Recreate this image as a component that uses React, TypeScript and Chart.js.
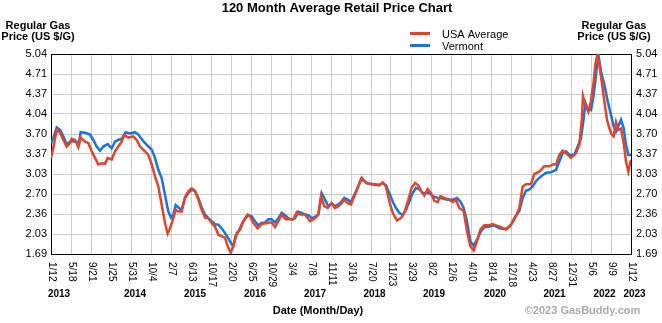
import React, { useEffect, useRef } from 'react';
import { Chart, registerables } from 'chart.js';

Chart.register(...registerables);

const FONT = '"Liberation Sans", Arial, Helvetica, sans-serif';

const chartTitle = '120 Month Average Retail Price Chart';
const axisTitleLines = ['Regular Gas', 'Price (US $/G)'];
const xAxisTitle = 'Date (Month/Day)';
const copyright = '\u00A92023 GasBuddy.com';
const seriesNames = ['USA Average', 'Vermont'];
const seriesColors = ['#E2452A', '#1A73DE'];

// x axis: weeks since 1/12/2013, one tick every 18 weeks
const xTickLabels = ['1/12', '5/18', '9/21', '1/25', '5/31', '10/4', '2/7', '6/13', '10/17', '2/20', '6/25', '10/29', '3/4', '7/8', '11/11', '3/16', '7/20', '11/23', '3/29', '8/2', '12/6', '4/10', '8/14', '12/18', '4/23', '8/27', '12/31', '5/6', '9/9', '1/12'];
const xTickWeeks = [0, 18, 36, 54, 72, 90, 108, 126, 144, 162, 180, 198, 216, 234, 252, 270, 288, 306, 324, 342, 360, 378, 396, 414, 432, 450, 468, 486, 504, 522];
const yearLabels = ['2013', '2014', '2015', '2016', '2017', '2018', '2019', '2020', '2021', '2022', '2023'];
const yearWeeks = [7.2, 75.6, 129.6, 183.6, 237.6, 291.2, 344.7, 399.6, 453.2, 498.2, 525.2];

const yTickValues = [1.69, 2.025, 2.36, 2.695, 3.03, 3.365, 3.70, 4.035, 4.37, 4.705, 5.04];
const yTickLabels = ['1.69', '2.03', '2.36', '2.70', '3.03', '3.37', '3.70', '4.04', '4.37', '4.71', '5.04'];

const usaWeeks = [0, 2.1, 5.1, 8.1, 11.1, 14.1, 17.1, 18.6, 21.6, 24.6, 26.7, 30.6, 33.6, 36.6, 39.6, 42.6, 45.6, 48.6, 51, 54.6, 57.6, 60.6, 63.6, 66, 69.6, 74.1, 77.1, 80.1, 84.6, 87.6, 90.6, 93.6, 96.6, 99.6, 102.6, 105, 107.1, 110.1, 112.2, 114.6, 117.6, 120.6, 123.6, 126.6, 129.6, 132.6, 135.6, 138.6, 141.6, 144.6, 147.6, 150.6, 153.6, 156.6, 159.6, 161.7, 164.1, 167.1, 170.1, 173.1, 177, 179.1, 182.1, 186, 189.6, 194.1, 198.6, 201.6, 204.6, 207.6, 211.2, 215.1, 218.1, 221.1, 224.1, 228.6, 233.1, 237.6, 240.6, 243, 246, 249, 252.6, 255.6, 258.6, 261, 264, 267, 270, 273, 276, 279.6, 283.5, 288, 292.5, 295.5, 298.5, 301.5, 304.5, 307.5, 311.4, 315, 318, 321.6, 324.6, 327.6, 330.6, 333.6, 336, 339, 342, 345, 348, 350.4, 354, 358.5, 361.5, 364.5, 367.5, 371.4, 374.4, 377.4, 380.4, 383.4, 386.4, 390, 393.6, 397.5, 400.5, 405, 409.5, 414, 417, 421.5, 424.5, 427.5, 432, 435, 439.5, 444, 448.5, 451.5, 454.5, 457.5, 460.5, 463.5, 468, 472.5, 475.5, 477.6, 478.8, 480.6, 483.6, 486, 488.4, 489.9, 491.4, 493.5, 495.6, 498, 500.4, 502.5, 504.6, 506.4, 508.5, 510.6, 513, 515.4, 517.5, 519.6, 522];
const usaPrices = [3.30, 3.47, 3.77, 3.72, 3.60, 3.49, 3.55, 3.62, 3.60, 3.48, 3.64, 3.57, 3.55, 3.41, 3.30, 3.19, 3.21, 3.20, 3.30, 3.27, 3.41, 3.49, 3.57, 3.68, 3.64, 3.66, 3.60, 3.49, 3.41, 3.35, 3.19, 2.99, 2.82, 2.51, 2.21, 2.03, 2.12, 2.29, 2.43, 2.40, 2.40, 2.64, 2.74, 2.79, 2.75, 2.60, 2.43, 2.30, 2.29, 2.21, 2.15, 2.01, 1.99, 1.96, 1.79, 1.71, 1.82, 2.04, 2.10, 2.24, 2.35, 2.32, 2.21, 2.12, 2.19, 2.21, 2.22, 2.14, 2.24, 2.35, 2.27, 2.27, 2.27, 2.39, 2.35, 2.35, 2.24, 2.29, 2.35, 2.65, 2.49, 2.46, 2.54, 2.46, 2.49, 2.53, 2.60, 2.54, 2.52, 2.66, 2.80, 2.97, 2.88, 2.86, 2.85, 2.84, 2.89, 2.82, 2.57, 2.38, 2.25, 2.29, 2.38, 2.60, 2.80, 2.88, 2.84, 2.73, 2.67, 2.78, 2.71, 2.58, 2.56, 2.66, 2.63, 2.60, 2.56, 2.60, 2.46, 2.41, 2.07, 1.82, 1.75, 1.90, 2.10, 2.17, 2.17, 2.19, 2.17, 2.14, 2.10, 2.18, 2.27, 2.46, 2.82, 2.86, 2.86, 3.03, 3.07, 3.16, 3.16, 3.19, 3.19, 3.35, 3.42, 3.38, 3.30, 3.38, 3.52, 3.91, 4.33, 4.20, 4.07, 4.25, 4.58, 4.86, 5.00, 4.86, 4.58, 4.25, 3.94, 3.80, 3.69, 3.66, 3.90, 3.77, 3.79, 3.55, 3.24, 3.07, 3.27];

const vtWeeks = [0, 2.1, 5.1, 8.1, 11.1, 14.1, 17.1, 20.1, 23.1, 25.2, 26.7, 30.6, 35.1, 38.1, 41.1, 44.1, 47.1, 51, 54.6, 57.6, 60.6, 63.6, 67.2, 71.1, 75.6, 78.6, 83.1, 87.6, 90.6, 93.6, 96.6, 99.6, 102.6, 105.6, 108, 110.1, 112.2, 114.6, 117.6, 120.6, 123.6, 126.6, 129.6, 132.6, 135.6, 138.6, 141.6, 144.6, 147.6, 150.6, 153.6, 156.6, 159.6, 162.6, 164.1, 166.2, 169.2, 172.2, 175.2, 177.6, 180.6, 183.6, 186.6, 189.6, 192.6, 195.6, 198.6, 201.6, 204.6, 207.6, 210.6, 213.6, 216.6, 219.6, 222.6, 225.6, 228.6, 231.6, 234.6, 237.6, 240.6, 243.6, 246.6, 249.6, 252.6, 255.6, 258.6, 261, 264, 267, 270, 273, 276, 279, 282, 285, 291, 295.5, 298.5, 301.5, 304.5, 307.5, 310.5, 313.5, 316.5, 319.5, 322.5, 325.5, 328.5, 331.5, 334.5, 337.5, 340.5, 343.5, 348, 352.5, 357, 361.5, 365.4, 368.4, 371.4, 374.4, 377.4, 380.4, 383.4, 387, 390, 394.5, 399, 403.5, 408, 411, 414, 417, 421.5, 424.5, 427.5, 430.5, 433.5, 436.5, 441, 445.5, 450, 454.5, 457.5, 460.5, 463.5, 466.5, 471, 474, 477, 479, 481, 483, 486, 488, 490, 491.5, 492.6, 495, 498, 501, 504, 506.4, 508.5, 510.6, 513, 515.4, 517.5, 519.6, 522];
const vtPrices = [3.55, 3.63, 3.81, 3.77, 3.66, 3.53, 3.57, 3.58, 3.57, 3.55, 3.73, 3.72, 3.69, 3.60, 3.49, 3.42, 3.49, 3.53, 3.46, 3.57, 3.60, 3.62, 3.73, 3.71, 3.73, 3.69, 3.58, 3.49, 3.44, 3.30, 3.10, 2.96, 2.68, 2.40, 2.30, 2.35, 2.51, 2.47, 2.43, 2.63, 2.71, 2.77, 2.74, 2.63, 2.47, 2.35, 2.29, 2.24, 2.19, 2.18, 2.12, 2.04, 1.95, 1.85, 1.83, 1.99, 2.08, 2.21, 2.29, 2.34, 2.32, 2.24, 2.17, 2.21, 2.22, 2.27, 2.27, 2.22, 2.29, 2.38, 2.34, 2.29, 2.27, 2.29, 2.40, 2.38, 2.35, 2.34, 2.29, 2.31, 2.35, 2.71, 2.60, 2.49, 2.54, 2.49, 2.52, 2.56, 2.63, 2.60, 2.56, 2.68, 2.80, 2.94, 2.91, 2.87, 2.86, 2.85, 2.88, 2.84, 2.71, 2.57, 2.46, 2.38, 2.34, 2.43, 2.57, 2.71, 2.80, 2.77, 2.71, 2.71, 2.71, 2.66, 2.63, 2.62, 2.60, 2.60, 2.63, 2.57, 2.46, 2.24, 1.90, 1.83, 1.93, 2.07, 2.14, 2.15, 2.17, 2.12, 2.11, 2.12, 2.18, 2.29, 2.41, 2.63, 2.75, 2.77, 2.82, 2.91, 2.99, 3.05, 3.06, 3.10, 3.24, 3.38, 3.41, 3.35, 3.35, 3.49, 3.63, 3.90, 4.22, 4.12, 4.10, 4.30, 4.60, 4.88, 5.03, 4.75, 4.53, 4.25, 4.02, 3.83, 3.74, 3.83, 3.94, 3.80, 3.52, 3.35, 3.35];

const toPoints = (xs: number[], ys: number[]) => xs.map((x, i) => ({ x, y: ys[i] }));

const decorPlugin = {
  id: 'gbDecor',
  beforeDatasetsDraw(chart: any) {
    const { ctx, chartArea } = chart;
    ctx.save();
    ctx.strokeStyle = '#000';
    ctx.lineWidth = 1;
    ctx.strokeRect(chartArea.left + 0.5, chartArea.top + 0.5, chartArea.right - chartArea.left, chartArea.bottom - chartArea.top);
    ctx.restore();
  },
  afterDraw(chart: any) {
    const { ctx, chartArea } = chart;
    const xs = chart.scales.x;
    ctx.save();
    ctx.fillStyle = '#000';
    // title
    ctx.font = `bold 13px ${FONT}`;
    ctx.textAlign = 'center';
    ctx.textBaseline = 'alphabetic';
    ctx.fillText(chartTitle, 337, 12);
    // axis titles
    ctx.font = `bold 11px ${FONT}`;
    axisTitleLines.forEach((t, i) => {
      ctx.fillText(t, 38, 29 + i * 11);
      ctx.fillText(t, 614, 29 + i * 11);
    });
    // legend
    ctx.textAlign = 'left';
    ctx.font = `11px ${FONT}`;
    seriesNames.forEach((name, i) => {
      const y = 33.5 + i * 12;
      ctx.strokeStyle = seriesColors[i];
      ctx.lineWidth = 3;
      ctx.beginPath();
      ctx.moveTo(410, y);
      ctx.lineTo(430, y);
      ctx.stroke();
      ctx.fillStyle = '#000';
      ctx.fillText(name, 442, y + 4);
    });
    // x tick labels, rotated clockwise
    ctx.font = `10px ${FONT}`;
    ctx.textBaseline = 'middle';
    ctx.textAlign = 'left';
    xs.ticks.forEach((tk: any, i: number) => {
      const px = xs.getPixelForValue(tk.value);
      ctx.save();
      ctx.translate(px + 0.5, chartArea.bottom + 8);
      ctx.rotate(Math.PI / 2);
      ctx.fillText(xTickLabels[i], 0, 0);
      ctx.restore();
    });
    // year labels
    ctx.font = `bold 10px ${FONT}`;
    ctx.textAlign = 'center';
    ctx.textBaseline = 'alphabetic';
    yearLabels.forEach((y, i) => {
      ctx.fillText(y, xs.getPixelForValue(yearWeeks[i]), 297);
    });
    // x axis title
    ctx.font = `bold 11px ${FONT}`;
    ctx.fillText(xAxisTitle, 318, 314);
    ctx.fillStyle = '#AAAAAA';
    ctx.fillText(copyright, 582.5, 314);
    ctx.restore();
  },
};

export default function App() {
  const ref = useRef<HTMLCanvasElement>(null);
  useEffect(() => {
    document.body.style.margin = '0';
    const yCommon = {
      min: 1.69,
      max: 5.04,
      afterBuildTicks: (s: any) => {
        s.ticks = yTickValues.map((v) => ({ value: v }));
      },
    };
    const chart = new Chart(ref.current as HTMLCanvasElement, {
      type: 'line',
      data: {
        datasets: [
          {
            label: seriesNames[0],
            data: toPoints(usaWeeks, usaPrices),
            borderColor: seriesColors[0],
            backgroundColor: seriesColors[0],
            borderWidth: 2.5,
            pointRadius: 0,
            tension: 0,
            fill: false,
          },
          {
            label: seriesNames[1],
            data: toPoints(vtWeeks, vtPrices),
            borderColor: seriesColors[1],
            backgroundColor: seriesColors[1],
            borderWidth: 2.5,
            pointRadius: 0,
            tension: 0,
            fill: false,
          },
        ],
      },
      options: {
        responsive: false,
        animation: false,
        devicePixelRatio: 1,
        layout: { padding: { top: 54, left: 0, right: 0, bottom: 0 } },
        plugins: {
          legend: { display: false },
          title: { display: false },
          tooltip: { enabled: false },
        },
        scales: {
          x: {
            type: 'linear',
            min: 0,
            max: 522,
            afterBuildTicks: (s: any) => {
              s.ticks = xTickWeeks.map((v) => ({ value: v }));
            },
            ticks: { display: false },
            grid: { color: '#CCCCCC', drawTicks: false },
            border: { display: false },
            afterFit: (s: any) => {
              s.height = 69;
            },
          },
          y: {
            ...yCommon,
            position: 'left',
            ticks: {
              callback: (_v: any, i: number) => yTickLabels[i],
              font: { family: FONT, size: 11 },
              color: '#000',
              padding: 4,
            },
            grid: { color: '#CCCCCC', drawTicks: false },
            border: { display: false },
            afterFit: (s: any) => {
              s.width = 51;
            },
          },
          y2: {
            ...yCommon,
            position: 'right',
            ticks: {
              callback: (_v: any, i: number) => yTickLabels[i],
              font: { family: FONT, size: 11 },
              color: '#000',
              padding: 5,
            },
            grid: { display: false, drawTicks: false },
            border: { display: false },
            afterFit: (s: any) => {
              s.width = 31;
            },
          },
        },
      } as any,
      plugins: [decorPlugin],
    });
    return () => chart.destroy();
  }, []);
  return <canvas ref={ref} width={662} height={323} style={{ display: 'block' }} />;
}
